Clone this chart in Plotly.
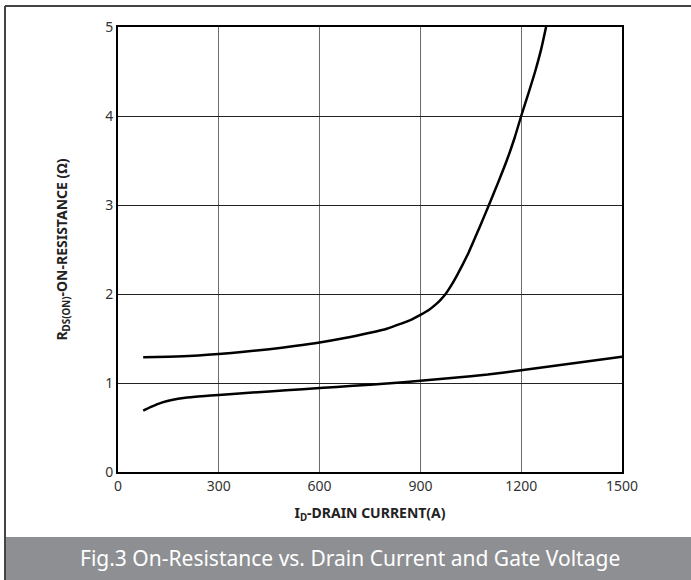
import plotly.graph_objects as go

# drain current (A) and on-resistance (ohm)
upper_id = [75, 150, 225, 300, 375, 450, 525, 600, 675, 750, 800, 841, 875, 900, 925,
            945, 960, 975, 990, 1009, 1044, 1075, 1104, 1130, 1157, 1180, 1200, 1222,
            1243, 1260, 1274]
upper_r = [1.29, 1.295, 1.305, 1.325, 1.35, 1.38, 1.415, 1.455, 1.505, 1.565, 1.61, 1.665,
           1.715, 1.765, 1.82, 1.88, 1.935, 2.0, 2.085, 2.21, 2.47, 2.74, 3.0, 3.24, 3.5, 3.75,
           4.0, 4.26, 4.52, 4.76, 5.0]

lower_id = [75, 100, 130, 160, 200, 250, 300, 400, 500, 600, 700, 800, 900, 1000, 1100,
            1200, 1300, 1400, 1500]
lower_r = [0.69, 0.735, 0.78, 0.81, 0.835, 0.852, 0.866, 0.893, 0.918, 0.943, 0.968, 0.995,
           1.025, 1.058, 1.095, 1.143, 1.195, 1.245, 1.295]

x_ticks = [0, 300, 600, 900, 1200, 1500]
y_ticks = [0, 1, 2, 3, 4, 5]

caption = "Fig.3 On-Resistance vs. Drain Current and Gate Voltage"

W, H = 691, 580
L, R, T, B = 118, 69, 27, 108
FONT = "Source Sans Pro, Noto Sans, sans-serif"


# pixel -> paper helpers for the frame and caption bar
def px(x):
    return (x - L) / (W - L - R)


def py(y):
    return (H - B - y) / (H - B - T)


fig = go.Figure()

for xs, ys in [(upper_id, upper_r), (lower_id, lower_r)]:
    fig.add_trace(go.Scatter(
        x=xs, y=ys, mode='lines',
        line=dict(color='black', width=2.5, shape='spline', smoothing=0.6),
        showlegend=False, hoverinfo='skip'
    ))

fig.update_xaxes(
    range=[0, 1500], tickvals=x_ticks, ticks='',
    showgrid=True, gridcolor='#6b6b6b', gridwidth=1,
    showline=True, linecolor='black', linewidth=2, mirror=True,
    zeroline=False,
    tickfont=dict(family=FONT, size=14, color='#333'),
    title=dict(text='<b>I<sub>D</sub>-DRAIN CURRENT(A)</b>',
               font=dict(family=FONT, size=14, color='#222'), standoff=14)
)
fig.update_yaxes(
    range=[0, 5], tickvals=y_ticks, ticks='',
    showgrid=True, gridcolor='#222', gridwidth=1,
    showline=True, linecolor='black', linewidth=2, mirror=True,
    zeroline=False,
    tickfont=dict(family=FONT, size=14, color='#333'),
    title=dict(text='<b>R<sub>DS(ON)</sub>-ON-RESISTANCE (Ω)</b>',
               font=dict(family=FONT, size=14, color='#222'), standoff=34)
)

# outer frame and grey caption bar
fig.add_shape(type='rect', xref='paper', yref='paper',
              x0=px(5), x1=px(700), y0=py(537), y1=py(590),
              fillcolor='#8e8f93', line_width=0, layer='below')
fig.add_shape(type='line', xref='paper', yref='paper',
              x0=px(5), x1=px(700), y0=py(6), y1=py(6),
              line=dict(color='#444', width=2))
fig.add_shape(type='line', xref='paper', yref='paper',
              x0=px(5), x1=px(5), y0=py(6), y1=py(590),
              line=dict(color='#444', width=2))

fig.add_annotation(text=caption, xref='paper', yref='paper',
                   x=px(350), y=py(558), xanchor='center', yanchor='middle',
                   showarrow=False,
                   font=dict(family=FONT, size=21, color='white'))

fig.update_layout(
    width=W, height=H, autosize=False,
    margin=dict(l=L, r=R, t=T, b=B),
    paper_bgcolor='white', plot_bgcolor='white'
)

fig.write_html("out.html", config={'displayModeBar': False},
               post_script="document.body.style.margin='0';")
